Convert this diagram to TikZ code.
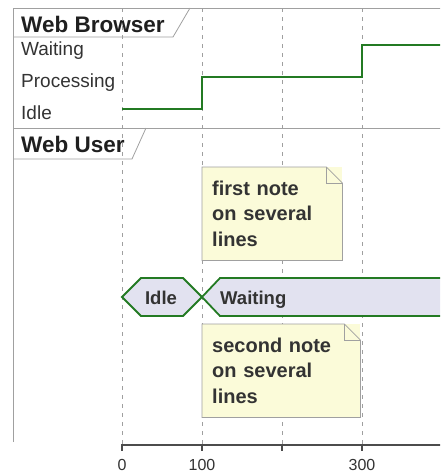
\documentclass[tikz,border=0pt]{standalone}
\usepackage{fontspec}
\setmainfont{Liberation Sans}
\usepackage{xcolor}
\usepackage{tikz}
\usetikzlibrary{positioning,calc}
\definecolor{frm}{HTML}{A0A0A0}
\definecolor{wv}{HTML}{237A23}
\definecolor{notebg}{HTML}{FBFBD9}
\definecolor{hexbg}{HTML}{E2E2F0}
\definecolor{ink}{HTML}{333333}
\tikzset{
  ln/.style={draw=frm,line width=0.8pt},
  grd/.style={draw=gray!75,line width=0.7pt,dash pattern=on 4pt off 5pt},
  wave/.style={draw=wv,line width=2.6pt},
  ttl/.style={font=\fontsize{22.5}{26}\selectfont\bfseries,text=black!88,
              anchor=base west,inner sep=0pt},
  lvl/.style={font=\fontsize{19}{22}\selectfont,text=ink,anchor=base west,inner sep=0pt},
  note/.style={fill=notebg,anchor=north west,align=left,inner xsep=10pt,inner ysep=0pt,
               minimum height=93pt,font=\fontsize{20}{25.5}\selectfont\bfseries,text=ink},
  noteln/.style={draw=frm,line width=0.8pt},
  hex/.style={draw=wv,line width=1.8pt,fill=hexbg},
  hexlbl/.style={font=\fontsize{18.5}{22}\selectfont\bfseries,text=ink,inner sep=0pt},
  axis/.style={draw=black!70,line width=2.4pt},
  tck/.style={font=\fontsize{16}{18}\selectfont,text=ink,anchor=base,inner sep=0pt},
}

\begin{document}
\begin{tikzpicture}[x=1pt,y=-1pt]
\useasboundingbox (0,0) rectangle (440,474);
\clip (0,0) rectangle (440,474);
% frame and tabs
\draw[ln] (13,442) -- (13,8) -- (441,8);
\draw[ln] (13,37) -- (173,37) -- (190,8);
\draw[ln] (13,128) -- (441,128);
\draw[ln] (13,159) -- (132,159) -- (146,128);
\node[ttl] (browser) at (21,32) {Web Browser};
\node[ttl] (user) at (21,152) {Web User};
% levels of the browser
\node[lvl] (lwait) at (21,55) {Waiting};
\node[lvl] (lproc) at (21,87) {Processing};
\node[lvl] (lidle) at (21,119) {Idle};
% time grid
\foreach \t in {0,100,200,300}
  \draw[grd] ({122+0.8*\t},8) -- ({122+0.8*\t},445);
% browser waveform
\coordinate (w0) at (122,109);
\coordinate (w1) at (202,77);
\coordinate (w2) at (362,45);
\coordinate (w3) at (445,45);
\draw[wave] (w0) -| (w1) -| (w2) -- (w3);
% notes
\node[note,text width=120pt,minimum width=140pt] (n1) at (202,167)
  {first note\\on several\\lines};
\draw[noteln] (n1.north west) -- ($(n1.north east)+(-16,0)$) -- ($(n1.north east)+(0,16)$)
  -- (n1.south east) -- (n1.south west) -- cycle;
\draw[noteln] ($(n1.north east)+(-16,0)$) -- ++(0,16) -- ++(16,0);
\node[note,text width=138pt,minimum width=158pt] (n2) at (202,324)
  {second note\\on several\\lines};
\draw[noteln] (n2.north west) -- ($(n2.north east)+(-16,0)$) -- ($(n2.north east)+(0,16)$)
  -- (n2.south east) -- (n2.south west) -- cycle;
\draw[noteln] ($(n2.north east)+(-16,0)$) -- ++(0,16) -- ++(16,0);
% user states
\draw[hex] (122,297) -- (141,278) -- (183,278) -- (202,297) -- (183,316) -- (141,316) -- cycle;
\node[hexlbl,anchor=base] (sidle) at (161,304) {Idle};
\fill[hexbg] (202,297) -- (220,278) -- (446,278) -- (446,316) -- (220,316) -- cycle;
\draw[hex,fill=none] (446,278) -- (220,278) -- (202,297) -- (220,316) -- (446,316);
\node[hexlbl,anchor=base west] (swait) at (220,304) {Waiting};
% time axis
\draw[axis] (122,445) -- (441,445);
\foreach \t in {0,100,200,300}
  \draw[axis,line width=2pt] ({122+0.8*\t},444) -- ({122+0.8*\t},451);
\foreach \t in {0,100,300}
  \node[tck] (t\t) at ({122+0.8*\t},470) {\t};
\end{tikzpicture}
\end{document}
